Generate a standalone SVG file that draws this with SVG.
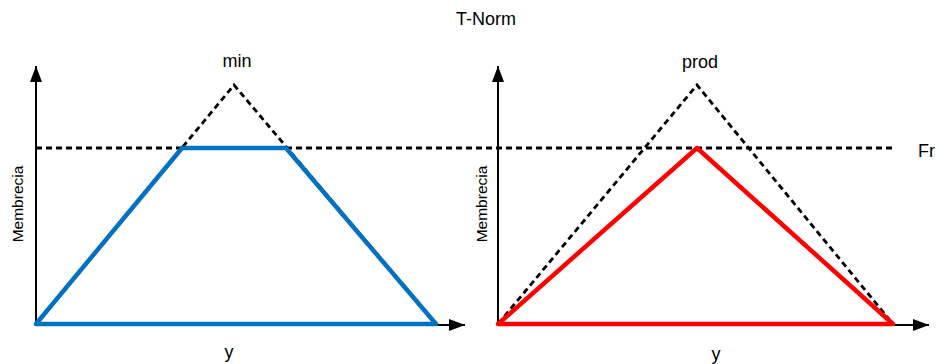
<svg xmlns="http://www.w3.org/2000/svg" width="940" height="364" viewBox="0 0 940 364">
<defs>
<marker id="arr" markerWidth="16" markerHeight="12" refX="16" refY="6" orient="auto" markerUnits="userSpaceOnUse">
<path d="M0,0 L16,6 L0,12 Z" fill="#000"/>
</marker>
<style>
.t{font-family:"Liberation Sans",Arial,sans-serif;font-size:18px;fill:#000}
.m{font-size:15.5px}
.ax{stroke:#000;stroke-width:2;fill:none}
.dash{stroke:#000;stroke-width:2.8;stroke-dasharray:6,4;fill:none}
.blue{stroke:#0070C0;stroke-width:4.5;fill:none;stroke-linejoin:round}
.red{stroke:#FF0000;stroke-width:4.5;fill:none;stroke-linejoin:round}
</style>
</defs>
<rect width="940" height="364" fill="#fff"/>
<text class="t" x="486" y="25" text-anchor="middle">T-Norm</text>
<g id="connectors">
<line class="ax" x1="36" y1="325" x2="36" y2="66" marker-end="url(#arr)"/>
<line class="ax" x1="36" y1="325" x2="465" y2="325" marker-end="url(#arr)"/>
<line class="ax" x1="498" y1="325" x2="498" y2="66" marker-end="url(#arr)"/>
<line class="ax" x1="498" y1="325" x2="929" y2="325" marker-end="url(#arr)"/>
<line class="dash" x1="36" y1="148" x2="893" y2="148"/>
</g>
<g id="left">
<polyline class="dash" points="36,324 234,85 436,324"/>
<polygon class="blue" points="36,324 182,148 286,148 436,324"/>
<text class="t" x="237" y="67" text-anchor="middle">min</text>
<text class="t" x="229" y="358" text-anchor="middle">y</text>
<text class="t m" transform="translate(23,204) rotate(-90)" text-anchor="middle">Membrecia</text>
</g>
<g id="right">
<polyline class="dash" points="498,324 697,85 893,324"/>
<polygon class="red" points="498,324 697,148 893,324"/>
<text class="t" x="700" y="68" text-anchor="middle">prod</text>
<text class="t" x="716" y="360" text-anchor="middle">y</text>
<text class="t m" transform="translate(487,204) rotate(-90)" text-anchor="middle">Membrecia</text>
</g>
<g id="fr">
<text class="t" x="918" y="157">Fr</text>
</g>
</svg>
